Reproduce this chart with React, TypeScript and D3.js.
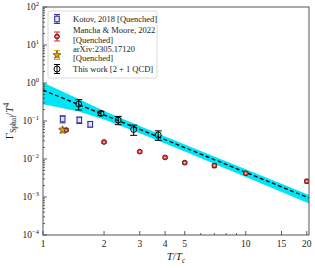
import React from 'react'
import * as d3 from 'd3'

// Kotov, 2018 [Quenched]
const kotovT = [1.25, 1.51, 1.71]
const kotovG = [0.113, 0.106, 0.082]
const kotovErr = [0.024, 0.02, 0.013]

// Mancha & Moore, 2022 [Quenched]
const manchaT = [1.3, 2, 3, 4, 5, 7, 10, 20]
const manchaG = [0.058, 0.028, 0.0156, 0.011, 0.008, 0.0067, 0.0042, 0.0026]
const manchaErr = [0.005, 0.002, 0.0011, 0.0008, 0.0006, 0.0008, 0.0003, 0.0003]

// arXiv:2305.17120 [Quenched]
const arxivT = [1.25]
const arxivG = [0.058]
const arxivErr = [0.01]

// This work [2 + 1 QCD]
const workT = [1.5, 1.93, 2.35, 2.8, 3.7]
const workG = [0.28, 0.159, 0.106, 0.06, 0.043]
const workErr = [0.085, 0.02, 0.026, 0.018, 0.012]

// fit and its band
const fitT = [1, 20.5]
const fitG = [0.65, 0.00094]
const bandT = [1, 1.5, 2, 3, 5, 10, 20.5]
const bandLo = [0.277, 0.179, 0.11, 0.0479, 0.0158, 0.00337, 0.00067]
const bandHi = [1.03, 0.381, 0.183, 0.074, 0.0239, 0.00534, 0.00113]

const xTicks = [1, 2, 3, 4, 5, 10, 15, 20]
const xMinor = [6, 7, 8, 9]
const yTicks = [-4, -3, -2, -1, 0, 1, 2]

const font = '"Liberation Serif", serif'

function ErrBar({ x, y0, y1, cap, color }) {
  return (
    <g stroke={color} strokeWidth={1}>
      <line x1={x} x2={x} y1={y0} y2={y1} />
      <line x1={x - cap} x2={x + cap} y1={y0} y2={y0} />
      <line x1={x - cap} x2={x + cap} y1={y1} y2={y1} />
    </g>
  )
}

function Square({ x, y }) {
  return <rect x={x - 2.3} y={y - 2.8} width={4.6} height={5.6} fill="#e4e4f8" stroke="#3535a0" strokeWidth={1.1} />
}

function RedDot({ x, y }) {
  return (
    <g>
      <circle cx={x} cy={y} r={2.4} fill="#f04848" stroke="#4a1010" strokeWidth={0.9} />
      <circle cx={x} cy={y} r={0.8} fill="#fdd" />
    </g>
  )
}

function Star({ x, y }) {
  const sym = d3.symbol().type(d3.symbolStar).size(20)()
  return <path d={sym} transform={`translate(${x},${y})`} fill="#e8a010" stroke="#3a2a00" strokeWidth={0.6} />
}

function OpenDot({ x, y }) {
  return <circle cx={x} cy={y} r={3} fill="none" stroke="#000" strokeWidth={1} />
}

export default function App() {
  const left = 43, right = 309, top = 7, bottom = 235
  const x = d3.scaleLog().domain([1, 20.5]).range([left, right])
  const y = d3.scaleLog().domain([1e-4, 1e2]).range([bottom, top])

  const band = d3.area()
    .x((d, i) => x(bandT[i]))
    .y0((d, i) => y(bandLo[i]))
    .y1((d, i) => y(bandHi[i]))(bandT)

  const fitLine = d3.line()
    .x((d, i) => x(fitT[i]))
    .y((d, i) => y(fitG[i]))(fitT)

  const yMinor = []
  for (let e = -4; e < 2; e++) {
    for (let k = 2; k <= 9; k++) yMinor.push(k * Math.pow(10, e))
  }

  const legend = [
    { lines: ['Kotov, 2018 [Quenched]'], my: 19, kind: 'kotov' },
    { lines: ['Mancha & Moore, 2022', '[Quenched]'], my: 36.5, kind: 'mancha' },
    { lines: ['arXiv:2305.17120', '[Quenched]'], my: 55, kind: 'arxiv' },
    { lines: ['This work [2 + 1 QCD]'], my: 69, kind: 'work' },
  ]

  const legendMarker = (kind, mx, my) => {
    if (kind === 'kotov') return <g><ErrBar x={mx} y0={my - 4.5} y1={my + 4.5} cap={3} color="#3535a0" /><Square x={mx} y={my} /></g>
    if (kind === 'mancha') return <g><ErrBar x={mx} y0={my - 4.5} y1={my + 4.5} cap={3} color="#e02020" /><RedDot x={mx} y={my} /></g>
    if (kind === 'arxiv') return <g><ErrBar x={mx} y0={my - 4.5} y1={my + 4.5} cap={3} color="#f0a000" /><Star x={mx} y={my} /></g>
    return <g><ErrBar x={mx} y0={my - 4.5} y1={my + 4.5} cap={3} color="#000" /><OpenDot x={mx} y={my} /></g>
  }

  return (
    <svg width={315} height={268} style={{ position: 'absolute', left: 0, top: 0, background: '#fff' }} fontFamily={font}>
      <defs>
        <clipPath id="plot"><rect x={left} y={top} width={right - left} height={bottom - top} /></clipPath>
      </defs>

      <g clipPath="url(#plot)">
        <path d={band} fill="#00e5f5" />
        <path d={fitLine} fill="none" stroke="#000" strokeWidth={1.3} strokeDasharray="4,2.5" />

        {kotovT.map((t, i) => (
          <g key={'k' + i}>
            <ErrBar x={x(t)} y0={y(kotovG[i] - kotovErr[i])} y1={y(kotovG[i] + kotovErr[i])} cap={3} color="#3535a0" />
            <Square x={x(t)} y={y(kotovG[i])} />
          </g>
        ))}
        {manchaT.map((t, i) => (
          <g key={'m' + i}>
            <ErrBar x={x(t)} y0={y(manchaG[i] - manchaErr[i])} y1={y(manchaG[i] + manchaErr[i])} cap={2.5} color="#e02020" />
            <RedDot x={x(t)} y={y(manchaG[i])} />
          </g>
        ))}
        {arxivT.map((t, i) => (
          <g key={'a' + i}>
            <ErrBar x={x(t)} y0={y(arxivG[i] - arxivErr[i])} y1={y(arxivG[i] + arxivErr[i])} cap={3} color="#f0a000" />
            <Star x={x(t)} y={y(arxivG[i])} />
          </g>
        ))}
        {workT.map((t, i) => (
          <g key={'w' + i}>
            <ErrBar x={x(t)} y0={y(workG[i] - workErr[i])} y1={y(workG[i] + workErr[i])} cap={3.5} color="#000" />
            <OpenDot x={x(t)} y={y(workG[i])} />
          </g>
        ))}
      </g>

      {/* ticks */}
      <g stroke="#333" strokeWidth={0.8}>
        {xTicks.map(t => <line key={'xt' + t} x1={x(t)} x2={x(t)} y1={bottom} y2={bottom - 4} />)}
        {xMinor.map(t => <line key={'xm' + t} x1={x(t)} x2={x(t)} y1={bottom} y2={bottom - 2} />)}
        {yTicks.map(e => <line key={'yt' + e} x1={left} x2={left + 4} y1={y(Math.pow(10, e))} y2={y(Math.pow(10, e))} />)}
        {yMinor.map((v, i) => <line key={'ym' + i} x1={left} x2={left + 2} y1={y(v)} y2={y(v)} />)}
      </g>

      <rect x={left} y={top} width={right - left} height={bottom - top} fill="none" stroke="#555" strokeWidth={1} />

      {/* tick labels */}
      <g fontSize={9.5} fill="#222">
        {xTicks.map(t => (
          <text key={'xl' + t} x={x(t)} y={bottom + 12} textAnchor="middle">{t}</text>
        ))}
        {yTicks.map(e => (
          <text key={'yl' + e} x={left - 4} y={y(Math.pow(10, e)) + 3} textAnchor="end">
            10<tspan dy={-4} fontSize={6.5}>{e < 0 ? '\u2212' + (-e) : e}</tspan>
          </text>
        ))}
      </g>

      {/* axis labels */}
      <text x={(left + right) / 2} y={260} textAnchor="middle" fontSize={11} fill="#222">
        <tspan fontStyle="italic">T</tspan>/<tspan fontStyle="italic">T</tspan><tspan dy={2.5} fontSize={7.5} fontStyle="italic">c</tspan>
      </text>
      <text transform={`translate(13,${(top + bottom) / 2}) rotate(-90)`} textAnchor="middle" fontSize={11} fill="#222">
        Γ<tspan dy={2.5} fontSize={7.5}>Sphal</tspan><tspan dy={-2.5}>/</tspan><tspan fontStyle="italic">T</tspan><tspan dy={-4} fontSize={7.5}>4</tspan>
      </text>

      {/* legend */}
      <rect x={48} y={11} width={109} height={67} rx={2} fill="#fff" fillOpacity={0.85} stroke="#d0d0d0" strokeWidth={0.8} />
      {legend.map(l => (
        <g key={l.kind}>
          {legendMarker(l.kind, 57, l.my)}
          {l.lines.map((s, j) => (
            <text key={j} x={73} y={l.my + 3 + (l.lines.length === 2 ? (j === 0 ? -6.5 : 3) : 0)} fontSize={8.5} fill="#222">{s}</text>
          ))}
        </g>
      ))}
    </svg>
  )
}
